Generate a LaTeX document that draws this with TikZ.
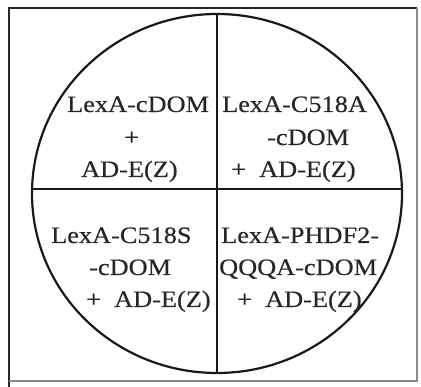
\documentclass[tikz,border=0pt]{standalone}
\usepackage{fontspec}
\setmainfont{Liberation Serif}[FakeStretch=1.12,FakeBold=0.4]
\usetikzlibrary{shapes.geometric}
\begin{document}
\begin{tikzpicture}[x=1pt,y=-1pt,
  lbl/.style={anchor=base west,inner sep=0pt,text=black!85,font=\fontsize{23.5}{26}\selectfont},
  rule/.style={line width=2.2pt,black!90}]
\useasboundingbox (0,0) rectangle (421,387);
% frame
\draw[line width=2.4pt,black!85] (417,8) -- (9,8) -- (9,387);
\draw[line width=1.6pt,black!45] (417,8) -- (417,381) -- (9,381);
% plate
\node[draw,rule,ellipse,minimum width=370pt,minimum height=359pt,inner sep=0pt] (plate) at (217,193.5) {};
\draw[rule] (plate.north) -- (plate.south);
\coordinate (hl) at (32,189);
\coordinate (hr) at (402,189);
\draw[rule] (hl) -- (hr);
% top-left
\node[lbl] (tl1) at (67,112) {LexA-cDOM};
\node[lbl] (tl2) at (124,145) {+};
\node[lbl] (tl3) at (81,177) {AD-E(Z)};
% top-right
\node[lbl] (tr1) at (222,112) {LexA-C518A};
\node[lbl] (tr2) at (267,145) {-cDOM};
\node[lbl] (tr3) at (231,177) {+\ \ AD-E(Z)};
% bottom-left
\node[lbl] (bl1) at (51,243) {LexA-C518S};
\node[lbl] (bl2) at (89,275) {-cDOM};
\node[lbl] (bl3) at (86,307) {+\ \ AD-E(Z)};
% bottom-right
\node[lbl] (br1) at (221,243) {LexA-PHDF2-};
\node[lbl] (br2) at (219,275) {QQQA-cDOM};
\node[lbl] (br3) at (237,307) {+\ \ AD-E(Z)};
\end{tikzpicture}
\end{document}
